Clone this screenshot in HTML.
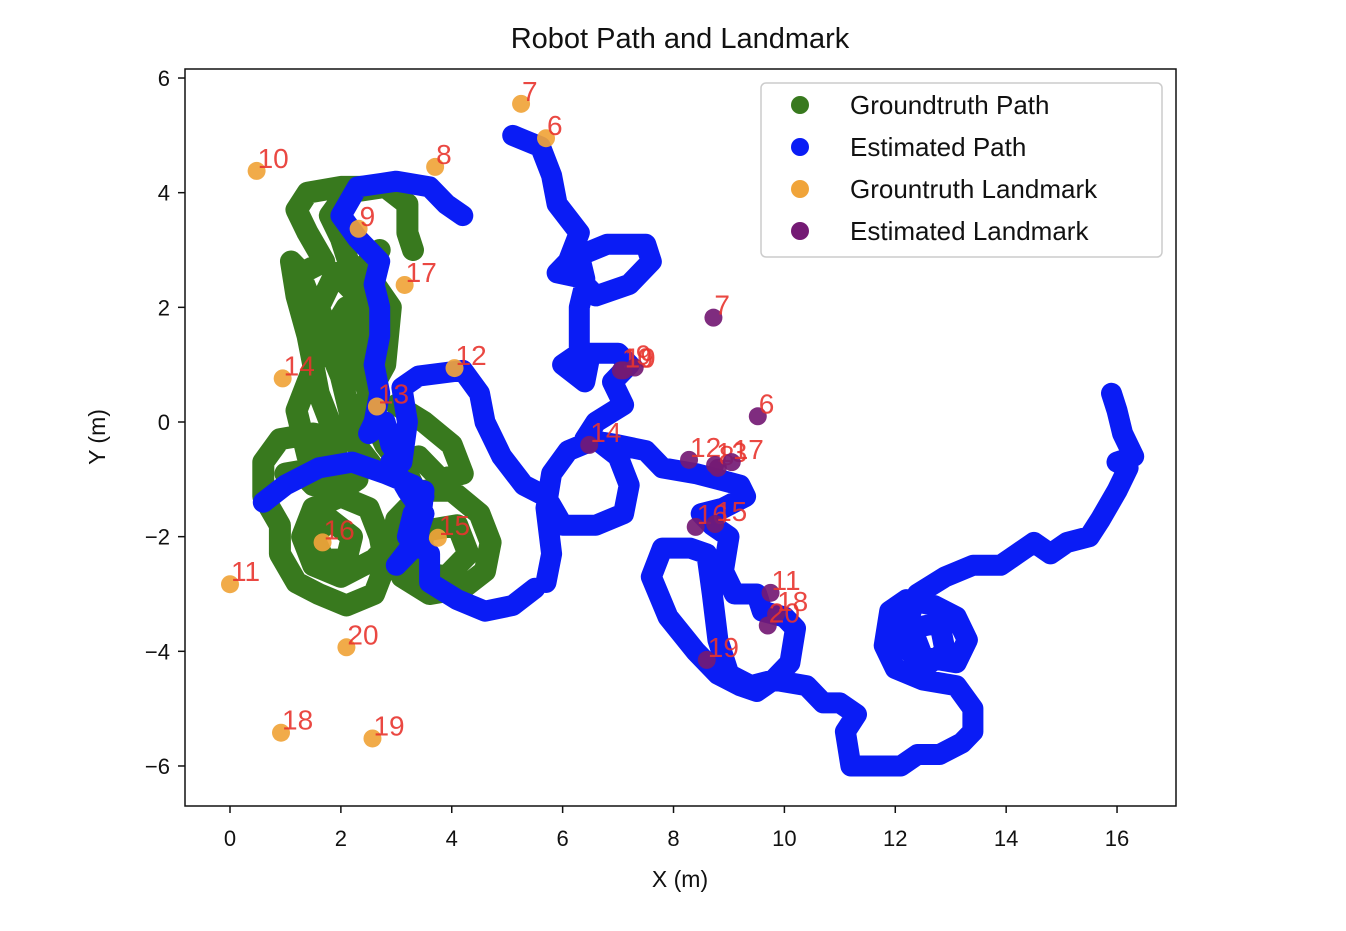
<!DOCTYPE html>
<html><head><meta charset="utf-8">
<style>
body{margin:0;background:#fff;}
svg text{font-family:"Liberation Sans","DejaVu Sans",sans-serif;}
</style></head>
<body>
<svg id="chart" width="1346" height="926" viewBox="0 0 1346 926" xmlns="http://www.w3.org/2000/svg">
<rect width="1346" height="926" fill="#fff"/>
<text x="680" y="48" font-size="29" text-anchor="middle" fill="#111">Robot Path and Landmark</text>
<g id="plot"></g>
<rect x="185" y="69" width="991" height="737" fill="none" stroke="#111" stroke-width="1.5"/>
<g id="axes"></g>
<text x="680" y="887" font-size="23" text-anchor="middle" fill="#111">X (m)</text>
<text x="105" y="437" font-size="23" text-anchor="middle" fill="#111" transform="rotate(-90 105 437)">Y (m)</text>
<g>
<rect x="761" y="83" width="401" height="174" rx="5" fill="#fff" stroke="#ccc" stroke-width="1.5"/>
<circle cx="800" cy="105" r="9" fill="#38791e"/>
<text x="850" y="114" font-size="26" fill="#111">Groundtruth Path</text>
<circle cx="800" cy="147" r="9" fill="#0a1cf5"/>
<text x="850" y="156" font-size="26" fill="#111">Estimated Path</text>
<circle cx="800" cy="189" r="9" fill="#f0a43a"/>
<text x="850" y="198" font-size="26" fill="#111">Grountruth Landmark</text>
<circle cx="800" cy="231" r="9" fill="#741a74"/>
<text x="850" y="240" font-size="26" fill="#111">Estimated Landmark</text>
</g>
</svg>
<script>
const xTicks=[0,2,4,6,8,10,12,14,16];
const yTicks=[6,4,2,0,-2,-4,-6];
const gtPathX=[2.6,2.0,1.4,1.2,1.4,1.7,1.3,1.1,1.2,1.4,1.5,1.6,1.8,2.0,1.5,0.9,0.6,0.6,0.9,0.9,1.2,1.6,2.1,2.6,2.8,2.7,2.5,2.0,1.5,1.3,1.5,2.0,2.6,3.0,3.2,3.5,4.0,4.5,4.7,4.6,4.2,3.6,3.1,2.9,3.0,3.4,3.2,2.8,2.6,2.5,2.3,2.4,2.3,1.9,1.6,1.8,2.1,2.3,2.2,2.0,1.8,2.1,2.8,3.2,3.2,3.3,
null,3.0,3.5,4.0,4.2,3.8,3.4,
null,1.3,1.7,2.0,2.2,1.9,1.4,1.2,1.6,2.1,
null,2.7,2.4,2.9,2.8,2.4,2.2,2.6,
null,1.5,1.8,2.2,2.1,1.7,1.5,
null,3.5,4.1,4.3,3.9,3.4,3.5,
null,1.0,1.6,2.3,2.0,1.5,1.3];
const gtPathY=[4.1,4.1,4.0,3.7,3.3,2.8,2.6,2.8,2.2,1.5,1.0,0.5,0.0,-0.3,-0.2,-0.3,-0.7,-1.3,-1.8,-2.3,-2.8,-3.0,-3.2,-3.0,-2.5,-2.0,-1.5,-1.3,-1.5,-2.0,-2.5,-2.7,-2.4,-2.0,-1.5,-1.2,-1.2,-1.6,-2.1,-2.6,-2.9,-3.0,-2.7,-2.2,-1.7,-1.3,-0.9,-0.4,0.0,0.5,1.0,1.6,2.2,2.6,2.0,1.5,1.2,1.8,2.6,3.2,3.6,4.0,4.1,3.8,3.3,3.0,
null,0.3,0.0,-0.4,-0.9,-1.0,-0.6,
null,2.5,1.5,0.8,0.0,-0.5,-0.6,0.2,1.2,2.0,
null,3.0,2.7,2.0,1.0,0.3,-0.3,-0.8,
null,-2.0,-1.7,-2.0,-2.4,-2.4,-2.0,
null,-1.9,-1.8,-2.3,-2.7,-2.6,-1.9,
null,-0.9,-0.8,-1.0,-1.2,-1.1,-0.9];
const estPathX=[5.1,5.6,5.8,5.9,6.3,6.1,5.9,6.4,6.3,6.8,7.5,7.6,7.2,6.6,6.4,6.3,6.3,6.3,6.0,6.4,6.5,7.0,7.2,6.9,7.1,6.6,6.4,7.0,7.5,7.8,8.4,8.8,9.2,9.3,8.9,8.5,8.7,9.0,8.9,9.1,9.5,9.6,10.0,10.2,10.1,9.8,9.4,9.0,8.8,8.7,8.6,8.3,7.8,7.6,7.9,8.4,8.8,9.2,9.5,9.8,10.4,10.7,11.0,11.3,11.1,11.2,11.6,12.1,12.4,12.8,13.2,13.4,13.4,13.1,12.5,12.0,11.8,11.9,12.2,12.7,13.1,13.3,13.1,12.5,12.3,12.8,12.9,12.5,12.1,12.4,12.9,13.4,13.9,14.2,14.5,14.8,15.1,15.5,15.7,16.0,16.2,16.0,16.3,16.1,16.0,15.9,
null,4.2,3.9,3.6,3.0,2.3,2.0,2.3,2.7,2.6,2.7,2.7,2.6,2.7,2.6,2.5,2.8,2.9,3.1,3.2,3.1,3.4,4.2,4.5,4.6,4.9,5.3,5.7,6.0,6.6,7.1,7.2,7.0,6.6,6.1,5.8,5.7,5.8,5.7,
null,0.6,1.0,1.6,2.2,2.8,3.3,3.5,3.3,3.2,3.6,3.6,4.1,4.6,5.1,5.5,
null,2.9,3.2,3.5,3.3,3.0,3.4,3.5];
const estPathY=[5.0,4.8,4.3,3.8,3.3,2.8,2.6,2.5,2.9,3.1,3.1,2.8,2.4,2.2,2.4,2.0,1.5,1.2,1.0,0.7,1.2,1.2,1.0,0.7,0.3,0.0,-0.3,-0.4,-0.5,-0.8,-0.9,-1.0,-1.1,-1.3,-1.5,-1.6,-1.8,-2.0,-2.6,-3.0,-3.0,-3.3,-3.4,-3.6,-4.2,-4.5,-4.6,-4.4,-3.8,-3.0,-2.3,-2.2,-2.2,-2.7,-3.4,-4.0,-4.4,-4.6,-4.7,-4.5,-4.6,-4.9,-4.9,-5.1,-5.4,-6.0,-6.0,-6.0,-5.8,-5.8,-5.6,-5.4,-5.0,-4.6,-4.5,-4.3,-3.9,-3.3,-3.1,-3.2,-3.4,-3.8,-4.2,-4.1,-3.6,-3.5,-4.0,-4.3,-3.8,-3.0,-2.7,-2.5,-2.5,-2.3,-2.1,-2.3,-2.1,-2.0,-1.7,-1.2,-0.8,-0.7,-0.6,-0.2,0.2,0.5,
null,3.6,3.8,4.1,4.2,4.1,3.6,3.2,2.8,2.4,2.0,1.5,1.0,0.5,0.0,-0.2,0.0,-0.4,-0.7,0.0,0.6,0.8,0.9,0.5,0.0,-0.6,-1.1,-1.3,-1.8,-1.8,-1.6,-1.1,-0.6,-0.3,-0.5,-0.9,-1.5,-2.3,-2.8,
null,-1.4,-1.1,-0.8,-0.7,-0.9,-1.1,-1.3,-1.6,-2.0,-2.3,-2.8,-3.1,-3.3,-3.2,-2.9,
null,-0.7,-1.2,-1.6,-2.2,-2.5,-2.0,-1.2];
const gtLmLabels=["7","6","10","8","9","17","12","14","13","16","15","11","20","18","19"];
const gtLmX=[5.25,5.7,0.48,3.7,2.32,3.15,4.05,0.95,2.65,1.67,3.75,0.0,2.1,0.92,2.57];
const gtLmY=[5.55,4.95,4.38,4.45,3.37,2.39,0.94,0.76,0.27,-2.1,-2.02,-2.83,-3.93,-5.42,-5.52];
const estLmLabels=["7","10","9","19","6","14","12","13","8","17","16","15","11","18","20","19"];
const estLmX=[8.72,7.05,7.3,7.1,9.52,6.48,8.28,8.75,8.8,9.05,8.4,8.75,9.75,9.85,9.7,8.6];
const estLmY=[1.82,0.9,0.95,0.9,0.1,-0.4,-0.66,-0.75,-0.8,-0.7,-1.83,-1.78,-2.98,-3.35,-3.55,-4.15];

const NS="http://www.w3.org/2000/svg";
const X=v=>230+v*55.44;
const Y=v=>422-v*57.33;
const plot=document.getElementById('plot');
const axes=document.getElementById('axes');
function mk(tag,attrs,parent){const e=document.createElementNS(NS,tag);for(const k in attrs)e.setAttribute(k,attrs[k]);parent.appendChild(e);return e;}
function drawPath(xs,ys,color,name,w){
  let d="",pen=false;
  for(let i=0;i<xs.length;i++){
    if(xs[i]===null){pen=false;continue;}
    d+=(pen?"L":"M")+X(xs[i]).toFixed(1)+" "+Y(ys[i]).toFixed(1)+" ";pen=true;
  }
  const p=mk('path',{d:d,fill:'none',stroke:color,'stroke-width':w,'stroke-linecap':'round','stroke-linejoin':'round'},plot);
  
  
}
drawPath(gtPathX,gtPathY,'#38791e','groundtruth-path',22);
drawPath(estPathX,estPathY,'#0a1cf5','estimated-path',21);
function drawLm(xs,ys,labels,color,name){
  for(let i=0;i<xs.length;i++){
    const c=mk('circle',{cx:X(xs[i]),cy:Y(ys[i]),r:9,fill:color,'fill-opacity':0.92},plot);
    
    
    const t=mk('text',{x:X(xs[i])+1,y:Y(ys[i])-3,'font-size':28,fill:'#e8342e','fill-opacity':0.9},plot);
    t.textContent=labels[i];
    
    
  }
}
drawLm(gtLmX,gtLmY,gtLmLabels,'#f0a43a','groundtruth-landmark');
drawLm(estLmX,estLmY,estLmLabels,'#741a74','estimated-landmark');
xTicks.forEach(v=>{
  const l=mk('line',{x1:X(v),x2:X(v),y1:806,y2:813,stroke:'#111','stroke-width':1.5},axes);
  
  
  const t=mk('text',{x:X(v),y:846,'font-size':22,'text-anchor':'middle',fill:'#111'},axes);
  t.textContent=String(v);
  
  
});
yTicks.forEach(v=>{
  const l=mk('line',{x1:178,x2:185,y1:Y(v),y2:Y(v),stroke:'#111','stroke-width':1.5},axes);
  
  
  const t=mk('text',{x:170,y:Y(v)+8,'font-size':22,'text-anchor':'end',fill:'#111'},axes);
  t.textContent=v<0?'\u2212'+Math.abs(v):String(v);
  
  
});
</script>
</body></html>
